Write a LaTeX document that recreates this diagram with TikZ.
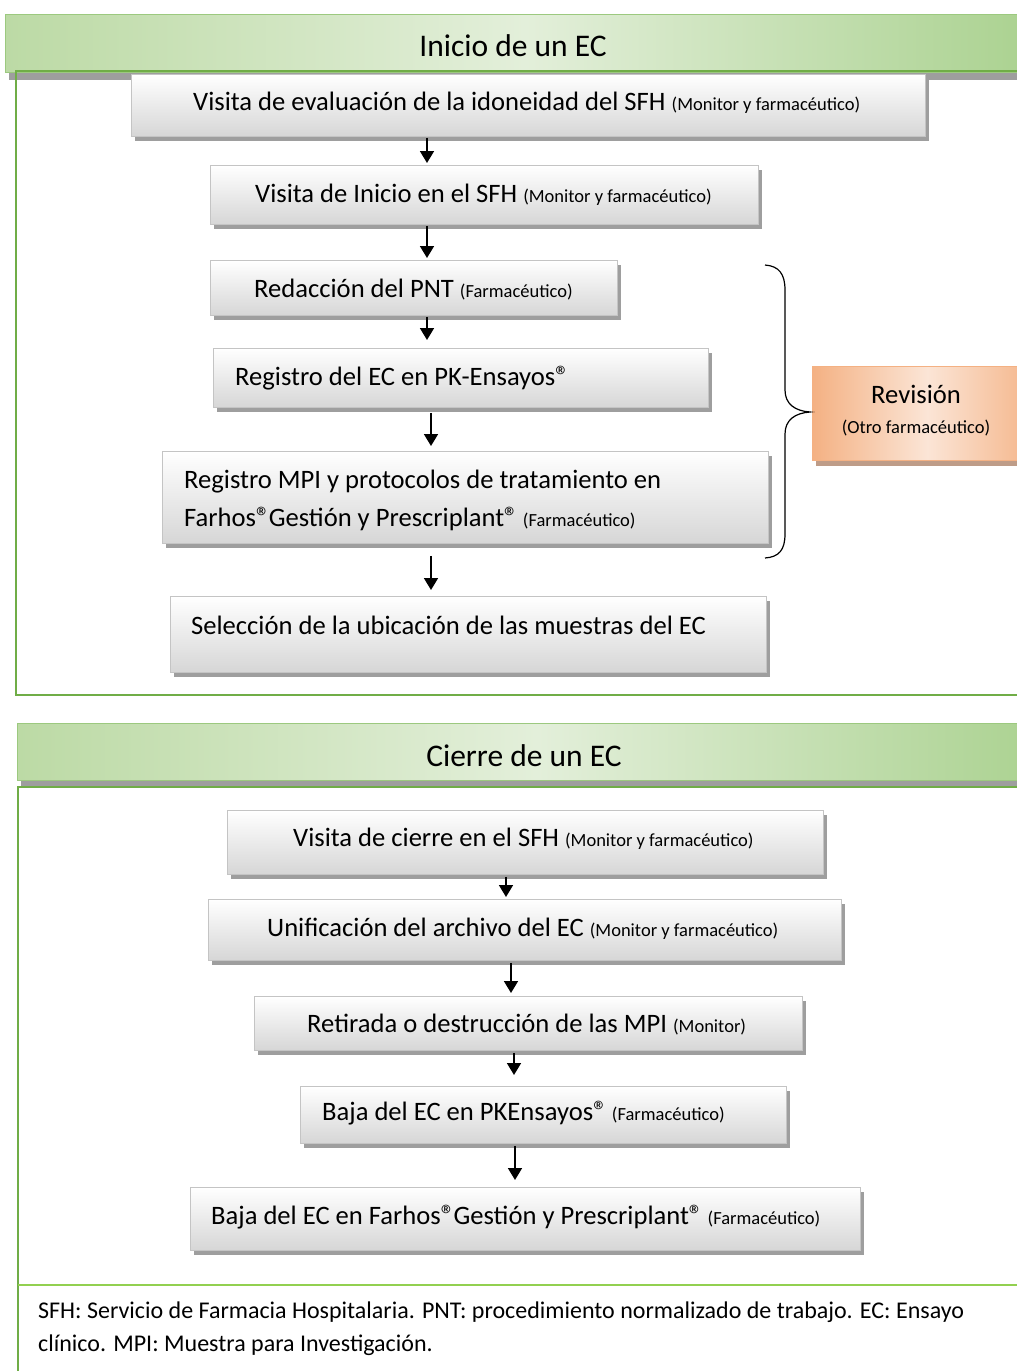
\documentclass[tikz,border=0pt]{standalone}
\usepackage{fontspec}
\setmainfont{Carlito}
\usetikzlibrary{shadows,arrows.meta}

\definecolor{framegreen}{HTML}{70AD47}
\definecolor{sepgreen}{HTML}{92D050}
\definecolor{hdrleft}{HTML}{BCDAA5}
\definecolor{hdrdark}{HTML}{A9D18E}
\definecolor{hdrlight}{HTML}{E3EFDA}
\definecolor{hdredge}{HTML}{9CC97F}
\definecolor{boxedge}{HTML}{C4C4C4}
\definecolor{boxgray}{HTML}{D6D6D6}
\definecolor{shadowgray}{HTML}{9E9E9E}
\definecolor{orangedark}{HTML}{F4B183}
\definecolor{orangelight}{HTML}{FBE5D6}
\definecolor{revshadow}{HTML}{BE9C88}

\newcommand\boxfont{\fontsize{26.6}{32}\selectfont}
\newcommand\rolefont{\fontsize{18.5}{22}\selectfont}
\newcommand\headfont{\fontsize{31.5}{36}\selectfont}
\newcommand\notefont{\fontsize{24}{28}\selectfont}
\newcommand\reg{{\fontsize{28}{28}\selectfont ®}\kern-1.5pt}

\tikzset{
  stepbox/.style={draw=boxedge, line width=0.8pt, inner sep=0pt, anchor=north west,
    top color=white, bottom color=boxgray,
    general shadow={fill=shadowgray, shadow xshift=4pt, shadow yshift=-5pt}},
  hdrband/.style={draw=hdredge, line width=1pt, inner sep=0pt, anchor=north west,
    left color=hdrleft, right color=hdrdark, middle color=hdrlight,
    general shadow={fill=shadowgray, shadow xshift=3pt, shadow yshift=-7pt}},
  revbox/.style={draw=orangedark, line width=0.8pt, inner sep=0pt, anchor=north west,
    left color=orangedark, right color=orangedark, middle color=orangelight,
    general shadow={fill=revshadow, shadow xshift=4pt, shadow yshift=-6pt}},
  lbl/.style={anchor=base west, inner sep=0pt, font=\boxfont},
  title/.style={anchor=base, inner sep=0pt, font=\headfont},
  frame/.style={draw=framegreen, line width=1.8pt},
  arr/.style={-{Triangle[length=12pt,width=14pt]}, line width=1.8pt},
  brace/.style={line width=1.2pt}
}

\begin{document}
\begin{tikzpicture}[x=1pt,y=-1pt]
\useasboundingbox (0,0) rectangle (1017,1371);
\clip (0,0) rectangle (1017,1371);
\fill[white] (0,0) rectangle (1017,1371);

% ---------- Inicio de un EC ----------
\node[hdrband, minimum width=1040pt, minimum height=58pt] (h1) at (5,14) {};
\node[title] (t1) at (513,56) {Inicio de un EC};
\draw[frame] (1030,71) -- (16,71) -- (16,695) -- (1030,695);

\node[stepbox, minimum width=794pt, minimum height=62pt] (b1) at (131,74) {};
\node[stepbox, minimum width=548pt, minimum height=59pt] (b2) at (210,165) {};
\node[stepbox, minimum width=407pt, minimum height=55pt] (b3) at (210,260) {};
\node[stepbox, minimum width=495pt, minimum height=59pt] (b4) at (213,348) {};
\node[stepbox, minimum width=606pt, minimum height=92pt] (b5) at (162,451) {};
\node[stepbox, minimum width=596pt, minimum height=76pt] (b6) at (170,596) {};

\node[lbl] (l1) at (193,110) {Visita de evaluación de la idoneidad del SFH {\rolefont(Monitor y farmacéutico)}};
\node[lbl] (l2) at (255,202) {Visita de Inicio en el SFH {\rolefont(Monitor y farmacéutico)}};
\node[lbl] (l3) at (254,297) {Redacción del PNT {\rolefont(Farmacéutico)}};
\node[lbl] (l4) at (235,385) {Registro del EC en PK-Ensayos\reg};
\node[lbl] (l5a) at (184,488) {Registro MPI y protocolos de tratamiento en};
\node[lbl] (l5b) at (184,526) {Farhos\reg Gestión y Prescriplant\reg{} {\rolefont(Farmacéutico)}};
\node[lbl] (l6) at (191,634) {Selección de la ubicación de las muestras del EC};

\coordinate (xa) at (427,0);
\coordinate (xb) at (431,0);
\draw[arr, shorten <=1pt, shorten >=2pt] (b1.south -| xa) -- (b2.north -| xa);
\draw[arr, shorten <=1pt, shorten >=2pt] (b2.south -| xa) -- (b3.north -| xa);
\draw[arr, shorten <=1pt, shorten >=8pt] (b3.south -| xa) -- (b4.north -| xa);
\draw[arr, shorten <=5pt, shorten >=5pt] (b4.south -| xb) -- (b5.north -| xb);
\draw[arr, shorten <=12pt, shorten >=6pt] (b5.south -| xb) -- (b6.north -| xb);

% review box and brace
\node[revbox, minimum width=230pt, minimum height=94pt] (rev) at (812,366) {};
\node[anchor=base, inner sep=0pt, font=\boxfont] (revt) at (916,403) {Revisión};
\node[anchor=base, inner sep=0pt, font=\rolefont] (revs) at (916,433) {(Otro farmacéutico)};
\coordinate (tip) at (810,412);
\draw[brace] (765,265) .. controls (779,266) and (785,274) .. (785,290) -- (785,390)
  .. controls (785,404) and (795,411) .. (tip)
  .. controls (795,413) and (785,420) .. (785,434) -- (785,534)
  .. controls (785,550) and (779,557) .. (765,558);

% ---------- Cierre de un EC ----------
\node[hdrband, minimum width=1040pt, minimum height=57pt] (h2) at (17,723) {};
\node[title] (t2) at (524,766) {Cierre de un EC};
\draw[frame] (1030,787) -- (18,787) -- (18,1380);
\draw[draw=sepgreen, line width=1.8pt] (18,1285) -- (1030,1285);

\node[stepbox, minimum width=596pt, minimum height=64pt] (c1) at (227,810) {};
\node[stepbox, minimum width=633pt, minimum height=61pt] (c2) at (208,899) {};
\node[stepbox, minimum width=548pt, minimum height=54pt] (c3) at (254,996) {};
\node[stepbox, minimum width=486pt, minimum height=57pt] (c4) at (300,1086) {};
\node[stepbox, minimum width=670pt, minimum height=63pt] (c5) at (190,1187) {};

\node[lbl] (m1) at (293,846) {Visita de cierre en el SFH {\rolefont(Monitor y farmacéutico)}};
\node[lbl] (m2) at (267,936) {Unificación del archivo del EC {\rolefont(Monitor y farmacéutico)}};
\node[lbl] (m3) at (307,1032) {Retirada o destrucción de las MPI {\rolefont(Monitor)}};
\node[lbl] (m4) at (322,1120) {Baja del EC en PKEnsayos\reg{} {\rolefont(Farmacéutico)}};
\node[lbl] (m5) at (211,1224) {Baja del EC en Farhos\reg Gestión y Prescriplant\reg{} {\rolefont(Farmacéutico)}};

\coordinate (xc) at (506,0);
\coordinate (xd) at (511,0);
\coordinate (xe) at (514,0);
\coordinate (xf) at (515,0);
\draw[arr, shorten <=2pt, shorten >=2pt] (c1.south -| xc) -- (c2.north -| xc);
\draw[arr, shorten <=2pt, shorten >=3pt] (c2.south -| xd) -- (c3.north -| xd);
\draw[arr, shorten <=2pt, shorten >=11pt] (c3.south -| xe) -- (c4.north -| xe);
\draw[arr, shorten <=2pt, shorten >=7pt] (c4.south -| xf) -- (c5.north -| xf);

% abbreviations
\node[anchor=base west, inner sep=0pt, font=\notefont] (n1) at (38,1318) {SFH: Servicio de Farmacia Hospitalaria. PNT: procedimiento normalizado de trabajo. EC: Ensayo};
\node[anchor=base west, inner sep=0pt, font=\notefont] (n2) at (38,1351) {clínico. MPI: Muestra para Investigación.};
\end{tikzpicture}
\end{document}
